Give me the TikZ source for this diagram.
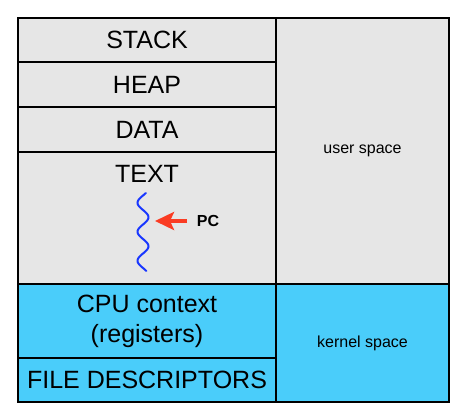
\documentclass[tikz,border=0pt]{standalone}
\usepackage{fontspec}
\setmainfont{Liberation Sans}
\usetikzlibrary{arrows.meta}

\definecolor{usergray}{RGB}{230,230,230}
\definecolor{kernelblue}{RGB}{74,205,250}
\definecolor{wireblue}{RGB}{25,55,255}
\definecolor{pcred}{RGB}{250,60,35}

\begin{document}
\begin{tikzpicture}[x=1pt,y=-1pt]
\tikzstyle{cell}=[rectangle,draw,line width=1.3pt,minimum width=258pt,inner sep=0pt,font=\fontsize{25}{30}\selectfont,align=center]
\tikzstyle{side}=[rectangle,draw,line width=1.3pt,minimum width=173pt,inner sep=0pt,font=\fontsize{16}{18}\selectfont]
\useasboundingbox (0,0) rectangle (469,418);

\node[cell,fill=usergray,minimum height=44pt] (stack) at (147,40) {STACK} ;
\node[cell,fill=usergray,minimum height=45pt] (heap) at (147,84.5) {HEAP} ;
\node[cell,fill=usergray,minimum height=45pt] (data) at (147,129.5) {DATA} ;
\node[cell,fill=usergray,minimum height=132pt] (text) at (147,218) {} ;
\node[cell,fill=kernelblue,minimum height=74pt] (cpu) at (147,321) {CPU context\\(registers)} ;
\node[cell,fill=kernelblue,minimum height=44pt] (fd) at (147,380) {FILE DESCRIPTORS} ;
\node[side,fill=usergray,minimum height=266pt] (user) at (362.5,151) {user space} ;
\node[side,fill=kernelblue,minimum height=118pt] (kernel) at (362.5,343) {kernel space} ;

\node[font=\fontsize{25}{30}\selectfont] (textlbl) at (147,174) {TEXT} ;

% the running thread
\draw[wireblue,line width=2pt,line cap=round,domain=0:78,samples=80,smooth]
  plot ({143-5.5*sin(12.414*(\x-2.5))},{193+\x}) ;
\coordinate (tip) at (155,221) ;

\node[font=\bfseries\fontsize{16}{18}\selectfont] (pc) at (208,221) {PC} ;
\coordinate (tail) at (187,221) ;
\draw[pcred,line width=4pt,-{Stealth[length=19pt,width=18pt,inset=4pt]}] (tail) -- (tip) ;

\end{tikzpicture}
\end{document}
